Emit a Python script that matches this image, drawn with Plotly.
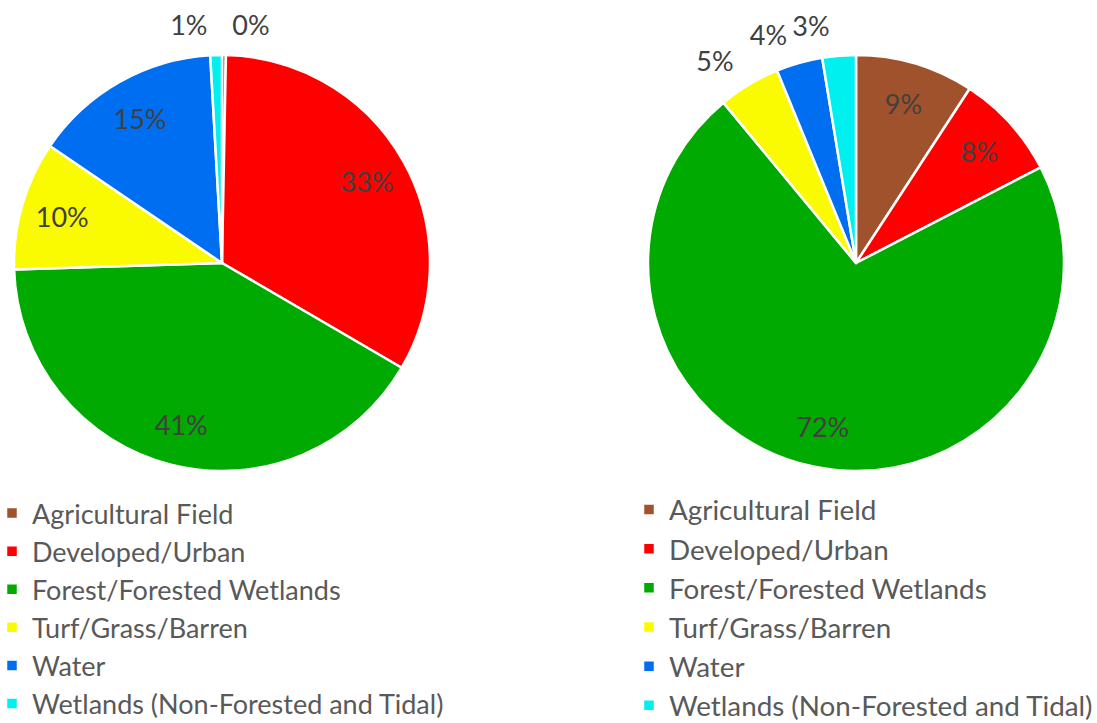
import plotly.graph_objects as go

categories = [
    "Agricultural Field",
    "Developed/Urban",
    "Forest/Forested Wetlands",
    "Turf/Grass/Barren",
    "Water",
    "Wetlands (Non-Forested and Tidal)",
]
left_values = [0.3, 33.1, 41.1, 10.0, 14.6, 0.9]
right_values = [9.2, 8.2, 71.6, 4.8, 3.6, 2.6]
colors = ["#A0522D", "#FF0000", "#00AA00", "#FAFA00", "#006EF0", "#00EFEF"]

# which slices get their label inside the pie and which outside
left_inside = [False, True, True, True, True, False]
right_inside = [True, True, True, False, False, False]

W, H = 1097, 723
FONT = "Lato"
LABEL_COLOR = "#404040"
LEGEND_COLOR = "#595959"


def dom_x(a, b):
    return [max(a / W, 0), min(b / W, 1)]


def dom_y(top, bottom):
    return [max(1 - bottom / H, 0), min(1 - top / H, 1)]


def add_pie(fig, values, inside, cx, cy, r, legend_id, group):
    # main coloured pie (no text)
    fig.add_trace(go.Pie(
        labels=categories, values=values, sort=False, direction="clockwise",
        rotation=0, legendgroup=group,
        marker=dict(colors=colors, line=dict(color="white", width=2.5)),
        textinfo="none", textposition="none",
        domain=dict(x=dom_x(cx - r, cx + r), y=dom_y(cy - r, cy + r)),
        legend=legend_id, hoverinfo="label+percent",
    ))
    clear = ["rgba(0,0,0,0)"] * len(values)
    # transparent ring carrying the inside labels (places them near 0.8 r)
    fig.add_trace(go.Pie(
        labels=categories, values=values, sort=False, direction="clockwise",
        rotation=0, hole=0.6, showlegend=False, legendgroup=group + "_in",
        marker=dict(colors=clear, line=dict(width=0)),
        texttemplate="%{percent:.0%}",
        textposition=["inside" if f else "none" for f in inside],
        insidetextorientation="horizontal",
        textfont=dict(family=FONT, size=27, color=LABEL_COLOR),
        domain=dict(x=dom_x(cx - r, cx + r), y=dom_y(cy - r, cy + r)),
        hoverinfo="skip",
    ))
    # transparent larger pies, one per outside label (so labels are not scooted)
    R = r + 14
    for i, f in enumerate(inside):
        if f:
            continue
        fig.add_trace(go.Pie(
            labels=categories, values=values, sort=False, direction="clockwise",
            rotation=0, showlegend=False, legendgroup=f"{group}_out{i}",
            marker=dict(colors=clear, line=dict(width=0)),
            texttemplate="%{percent:.0%}",
            textposition=["outside" if j == i else "none" for j in range(len(values))],
            textfont=dict(family=FONT, size=27, color=LABEL_COLOR),
            domain=dict(x=dom_x(cx - R, cx + R), y=dom_y(cy - R, cy + R)),
            hoverinfo="skip",
        ))


fig = go.Figure()
add_pie(fig, left_values, left_inside, 222, 263, 208, "legend", "left")
add_pie(fig, right_values, right_inside, 856, 263, 208, "legend2", "right")

legend_common = dict(
    bgcolor="rgba(0,0,0,0)", traceorder="normal",
    xanchor="left", yanchor="top", orientation="v",
)
fig.update_layout(
    width=W, height=H,
    margin=dict(l=0, r=0, t=0, b=0, autoexpand=False),
    paper_bgcolor="white", plot_bgcolor="white",
    font=dict(family=FONT),
    legend=dict(x=-8 / W, y=1 - 489 / H,
                font=dict(family=FONT, size=27, color=LEGEND_COLOR), **legend_common),
    legend2=dict(x=629 / W, y=1 - 485 / H,
                 font=dict(family=FONT, size=27.8, color=LEGEND_COLOR), **legend_common),
    showlegend=True,
)
fig.write_html("out.html", config={"displayModeBar": False},
               post_script="document.body.style.margin='0';")
